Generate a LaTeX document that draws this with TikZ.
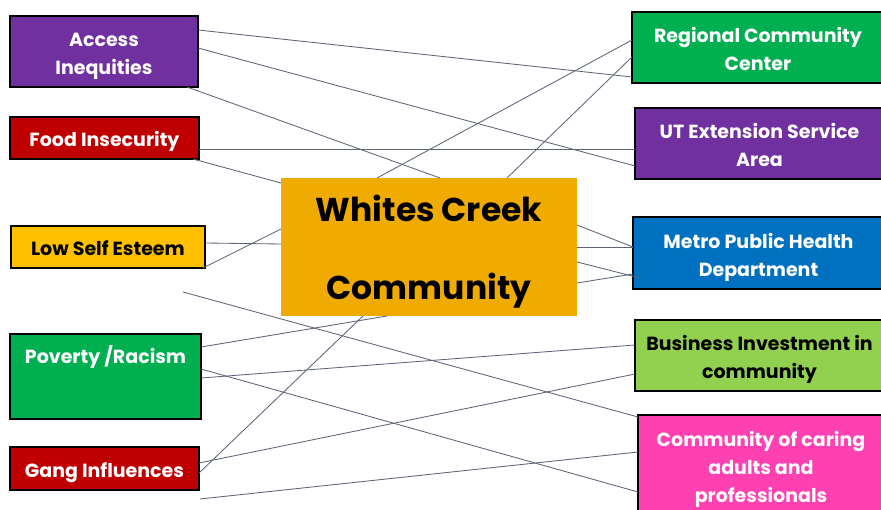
\documentclass[tikz,border=0pt]{standalone}
\usepackage{fontspec}
\setmainfont{Poppins}
\usetikzlibrary{calc}

\definecolor{boxpurple}{RGB}{112,48,160}
\definecolor{boxred}{RGB}{192,0,0}
\definecolor{boxyellow}{RGB}{255,192,0}
\definecolor{boxgreen}{RGB}{0,176,80}
\definecolor{boxblue}{RGB}{0,112,192}
\definecolor{boxlime}{RGB}{146,208,80}
\definecolor{boxpink}{RGB}{255,64,176}
\definecolor{hubgold}{RGB}{240,171,0}
\definecolor{linkgray}{RGB}{92,100,120}

\tikzset{every picture/.style={line width=0.75pt}}
\tikzset{
  issue/.style={draw=black, line width=2.5pt, outer sep=0pt, inner sep=0pt,
    anchor=north west, align=center, text=white,
    font=\fontsize{19}{28}\selectfont\bfseries},
  oneline/.style={text height=30, text depth=12},
  twoline/.style={text height=59, text depth=12},
  link/.style={draw=linkgray, line width=0.85pt},
}

\begin{document}
\begin{tikzpicture}[x=1pt,y=1pt,yscale=-1,xscale=1]
\useasboundingbox (0,0) rectangle (881,510);

%Shape: Rectangle -- centre
\node [fill=hubgold, outer sep=0pt, inner sep=0pt, anchor=north west,
  minimum width=296, minimum height=138, text height=122, text depth=16, align=center,
  font=\fontsize{33}{78}\selectfont\bfseries] (wc) at (281,178) {Whites Creek\\Community};

%Shape: Rectangle -- left column
\node [issue, twoline, fill=boxpurple, minimum width=188, minimum height=71] (acc) at (10,16) {Access\\Inequities};
\node [issue, oneline, fill=boxred, minimum width=189, minimum height=42] (food) at (10,117) {Food Insecurity};
\node [issue, oneline, fill=boxyellow, text=black, minimum width=194, minimum height=42] (low) at (11,226) {Low Self Esteem};
\node [issue, fill=boxgreen, minimum width=191, minimum height=85, text height=30, text depth=55] (pov) at (10,334) {Poverty /Racism};
\node [issue, oneline, fill=boxred, minimum width=189, minimum height=43] (gang) at (10,447) {Gang Influences};

%Shape: Rectangle -- right column
\node [issue, twoline, fill=boxgreen, minimum width=252, minimum height=71] (rcc) at (632,12) {Regional Community\\Center};
\node [issue, twoline, fill=boxpurple, minimum width=249, minimum height=71] (ut) at (635,108) {UT Extension Service\\Area};
\node [issue, twoline, fill=boxblue, minimum width=251, minimum height=72] (mph) at (633,217) {Metro Public Health\\Department};
\node [issue, twoline, fill=boxlime, text=black, minimum width=249, minimum height=71] (bus) at (635,320) {Business Investment in\\community};
\node [issue, fill=boxpink, minimum width=246, minimum height=100, text height=87, text depth=13] (coc) at (638,415) {Community of caring\\adults and\\professionals};

% loose ends
\coordinate (loose1) at (183,292);
\coordinate (loose2) at (200,499);

%Straight Lines
\draw [link] (acc.east |- 0,30) -- (rcc.west |- 0,77);
\draw [link] (acc.east |- 0,48) -- (ut.west |- 0,166);
\draw [link] (acc.south -| 187,0) -- (wc.north -| 440,0);
\draw [link] (food.east |- 0,149) -- (ut.west |- 0,149);
\draw [link] (food.south -| 193,0) -- (wc.west |- 0,183);
\draw [link] (wc.north -| 377,0) -- (rcc.west |- 0,40);
\draw [link] (wc.north -| 507,0) -- (rcc.west |- 0,57);
\draw [link] (low.east |- 0,243) -- (wc.west |- 0,244);
\draw [link] (low.south -| 203,0) -- (wc.west |- 0,229);
\draw [link] (wc.east |- 0,225) -- (mph.west |- 0,247);
\draw [link] (wc.east |- 0,247) -- (mph.west |- 0,247);
\draw [link] (wc.east |- 0,262) -- ([xshift=7pt]mph.west |- 0,278);
\draw [link] (wc.east |- 0,283) -- (mph.west |- 0,274);
\draw [link] (loose1) -- (coc.west |- 0,417);
\draw [link] (pov.east |- 0,347) -- (wc.south -| 387,0);
\draw [link] (pov.east |- 0,378) -- (bus.west |- 0,345);
\draw [link] (pov.east |- 0,369) -- (coc.west |- 0,492);
\draw [link] (gang.east |- 0,473) -- (wc.south -| 363,0);
\draw [link] (gang.east |- 0,463) -- (bus.west |- 0,374);
\draw [link] (loose2) -- (coc.west |- 0,452);

\end{tikzpicture}
\end{document}
